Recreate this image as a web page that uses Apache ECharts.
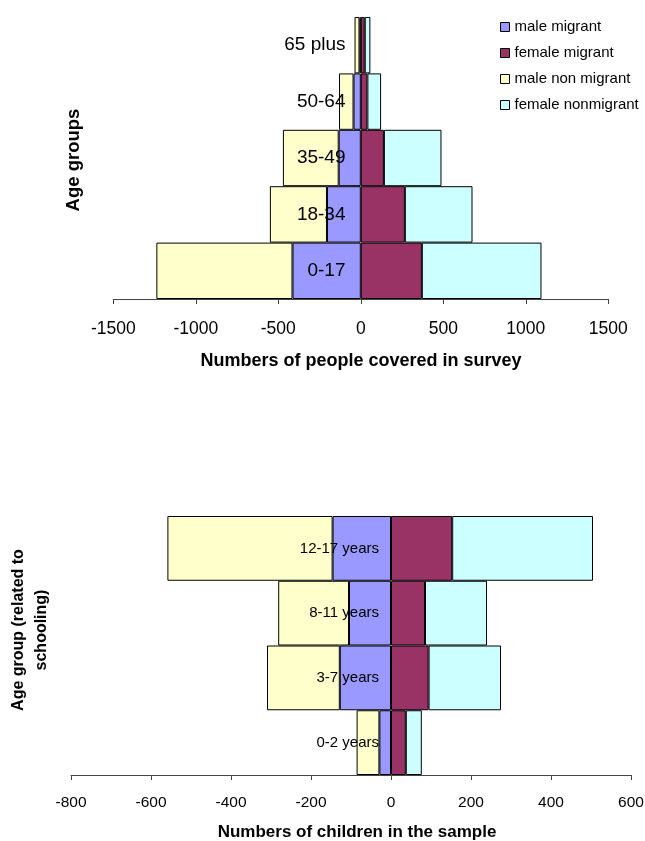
<!DOCTYPE html>
<html>
<head>
<meta charset="utf-8">
<script src="https://cdn.jsdelivr.net/npm/echarts@6/dist/echarts.min.js"></script>
<style>
  html, body { margin: 0; padding: 0; background: #ffffff; }
  #chart { width: 645px; height: 841px; }
</style>
</head>
<body>
<div id="chart"></div>
<script>
// Survey population by age group (upper pyramid)
const popAgeGroups = ['0-17', '18-34', '35-49', '50-64', '65 plus'];
const popMaleMigrant = [-414, -205, -134, -44, -8];
const popFemaleMigrant = [370, 267, 140, 40, 24];
const popMaleNonMigrant = [-825, -346, -338, -88, -30];
const popFemaleNonMigrant = [725, 410, 349, 83, 34];
const popTicks = [-1500, -1000, -500, 0, 500, 1000, 1500];

// Children in the sample by schooling age group (lower pyramid)
const childAgeGroups = ['0-2 years', '3-7 years', '8-11 years', '12-17 years'];
const childMaleMigrant = [-29, -128, -105, -146];
const childFemaleMigrant = [37, 94, 85, 153];
const childMaleNonMigrant = [-57, -182, -177, -413];
const childFemaleNonMigrant = [40, 181, 155, 352];
const childTicks = [-800, -600, -400, -200, 0, 200, 400, 600];

const seriesNames = ['male migrant', 'female migrant', 'male non migrant', 'female nonmigrant'];
const seriesColors = ['#9999FF', '#993366', '#FFFFCC', '#CCFFFF'];

const FONT = "'Liberation Sans', Arial, Helvetica, sans-serif";

// Plot rectangles of the two pyramids
const gridTop = { left: 113.3, width: 495, top: 17, height: 282 };
const gridBottom = { left: 71, width: 560, top: 516, height: 259 };

// Category labels sit just left of the zero line, so the label margin
// is measured from the grid's left edge to that point (negative = inward).
function zeroLabelMargin(grid, ticks, gap) {
  const min = ticks[0], max = ticks[ticks.length - 1];
  const zeroOffset = grid.width * (0 - min) / (max - min);
  return -(zeroOffset - gap);
}

function makeSeries(gridIdx, stackName, valueLists) {
  return valueLists.map(function (vals, i) {
    return {
      name: seriesNames[i],
      type: 'bar',
      xAxisIndex: gridIdx,
      yAxisIndex: gridIdx,
      stack: stackName,
      barCategoryGap: '0%',
      data: vals,
      itemStyle: { color: seriesColors[i], borderColor: '#000000', borderWidth: 1 },
      emphasis: { disabled: true },
      animation: false
    };
  });
}

function valueAxis(gridIdx, ticks, fontSize, margin) {
  return {
    type: 'value',
    gridIndex: gridIdx,
    min: ticks[0],
    max: ticks[ticks.length - 1],
    interval: ticks[1] - ticks[0],
    splitLine: { show: false },
    axisLine: { show: true, onZero: false, lineStyle: { color: '#444444', width: 1 } },
    axisTick: { show: true, length: 5, lineStyle: { color: '#444444' } },
    axisLabel: {
      color: '#000000', fontSize: fontSize, fontFamily: FONT, margin: margin,
      formatter: function (v) { return String(v); }
    }
  };
}

function categoryAxis(gridIdx, cats, fontSize, margin) {
  return {
    type: 'category',
    gridIndex: gridIdx,
    data: cats,
    z: 10,
    axisLine: { show: false },
    axisTick: { show: false },
    axisLabel: { color: '#000000', fontSize: fontSize, fontFamily: FONT, margin: margin, align: 'right' }
  };
}

const chart = echarts.init(document.getElementById('chart'), null, { renderer: 'canvas' });

chart.setOption({
  backgroundColor: '#ffffff',
  animation: false,
  grid: [
    { left: gridTop.left, width: gridTop.width, top: gridTop.top, height: gridTop.height,
      outerBoundsMode: 'none', containLabel: false },
    { left: gridBottom.left, width: gridBottom.width, top: gridBottom.top, height: gridBottom.height,
      outerBoundsMode: 'none', containLabel: false }
  ],
  xAxis: [
    valueAxis(0, popTicks, 17.5, 21),
    valueAxis(1, childTicks, 15.5, 20)
  ],
  yAxis: [
    categoryAxis(0, popAgeGroups, 19, zeroLabelMargin(gridTop, popTicks, 15.3)),
    categoryAxis(1, childAgeGroups, 15, zeroLabelMargin(gridBottom, childTicks, 12))
  ],
  legend: {
    data: seriesNames,
    orient: 'vertical',
    left: 495,
    top: 13,
    icon: 'rect',
    itemWidth: 9,
    itemHeight: 9,
    itemGap: 8,
    itemStyle: { borderColor: '#000000', borderWidth: 1 },
    textStyle: { color: '#000000', fontSize: 15, fontFamily: FONT, lineHeight: 18 },
    selectedMode: false
  },
  graphic: [
    {
      type: 'text', x: 361, y: 361,
      style: { text: 'Numbers of people covered in survey', font: 'bold 18px ' + FONT,
               fill: '#000000', textAlign: 'center', textVerticalAlign: 'middle' }
    },
    {
      type: 'text', x: 74, y: 160, rotation: Math.PI / 2,
      style: { text: 'Age groups', font: 'bold 18.5px ' + FONT,
               fill: '#000000', textAlign: 'center', textVerticalAlign: 'middle' }
    },
    {
      type: 'text', x: 357, y: 832,
      style: { text: 'Numbers of children in the sample', font: 'bold 17px ' + FONT,
               fill: '#000000', textAlign: 'center', textVerticalAlign: 'middle' }
    },
    {
      type: 'text', x: 30, y: 630, rotation: Math.PI / 2,
      style: { text: 'Age group (related to\nschooling)', font: 'bold 16px ' + FONT,
               fill: '#000000', textAlign: 'center', textVerticalAlign: 'middle', lineHeight: 23 }
    }
  ],
  series: [].concat(
    makeSeries(0, 'pop', [popMaleMigrant, popFemaleMigrant, popMaleNonMigrant, popFemaleNonMigrant]),
    makeSeries(1, 'child', [childMaleMigrant, childFemaleMigrant, childMaleNonMigrant, childFemaleNonMigrant])
  )
});
</script>
</body>
</html>
